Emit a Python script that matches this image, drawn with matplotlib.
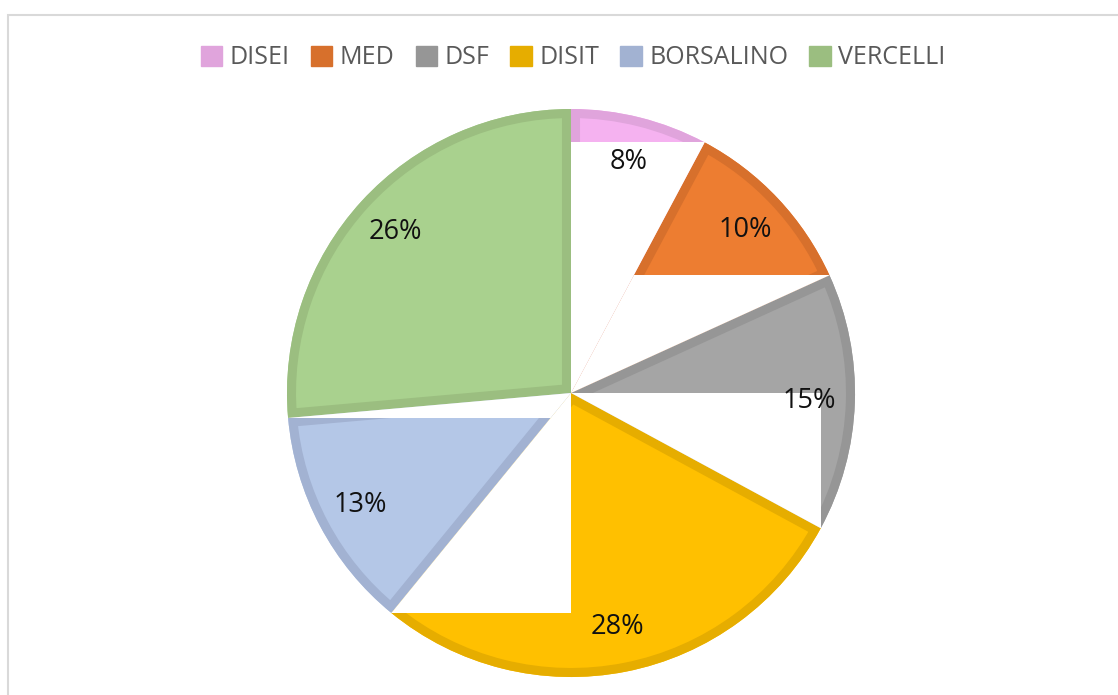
import numpy as np
import matplotlib.pyplot as plt
from matplotlib.patches import Rectangle, Patch, Wedge

# data
labels = ['DISEI', 'MED', 'DSF', 'DISIT', 'BORSALINO', 'VERCELLI']
shares = [7.8, 10.4, 14.7, 28.0, 12.7, 26.4]

fill_colors = ['#F5B2F0', '#ED7D31', '#A5A5A5', '#FFC000', '#B4C7E7', '#A9D18E']
edge_colors = ['#E0A4DC', '#D7702C', '#969696', '#E6AD00', '#A2B2D2', '#9BBE80']

plt.rcParams['font.family'] = ['Open Sans', 'DejaVu Sans']

W, H = 1118, 695
fig = plt.figure(figsize=(W / 100, H / 100), dpi=100)

# pie placement (pixels)
cx, cy, R, half = 571, 393, 284, 300
ax = fig.add_axes([(cx - half) / W, (H - cy - half) / H, 2 * half / W, 2 * half / H])

wedges, texts, autotexts = ax.pie(
    shares, startangle=90, counterclock=False, radius=1,
    colors=fill_colors, autopct='%.0f%%', pctdistance=0.84,
    wedgeprops={'linewidth': 0},
    textprops={'fontsize': 19.5, 'color': '#111111'},
)

lim = half / R
ax.set_xlim(-lim, lim)
ax.set_ylim(-lim, lim)
ax.set_aspect('equal')
ax.axis('off')

for w, ec in zip(wedges, edge_colors):
    # border drawn inside the slice only
    clip = Wedge((0, 0), 1, w.theta1, w.theta2, transform=ax.transData)
    border = Wedge((0, 0), 1, w.theta1, w.theta2, facecolor='none', edgecolor=ec,
                   linewidth=13, joinstyle='miter', zorder=1.2)
    ax.add_patch(border)
    border.set_clip_path(clip)
    # white cut-out between the centre and the end point of the slice edge
    t = np.deg2rad(w.theta1)
    ex, ey = np.cos(t), np.sin(t)
    if abs(ex) > 1e-6 and abs(ey) > 1e-6:
        cut = Rectangle((min(0, ex), min(0, ey)), abs(ex), abs(ey),
                        facecolor='white', edgecolor='none', zorder=1.5)
        ax.add_patch(cut)
        cut.set_clip_path(clip)

for t in autotexts:
    t.set_zorder(5)

handles = [Patch(facecolor=c, edgecolor=c) for c in edge_colors]
fig.legend(handles, labels, loc='center', bbox_to_anchor=(573 / W, 1 - 58 / H),
           ncol=6, frameon=False, fontsize=18, labelcolor='#595959',
           handlelength=0.85, handleheight=0.85, handletextpad=0.3,
           columnspacing=0.85)

# chart area border
fig.add_artist(Rectangle((8 / W, -0.1), 1.2, 1.1 - 15 / H, transform=fig.transFigure,
                         fill=False, edgecolor='#D9D9D9', linewidth=1.5))

fig.savefig('out.png', dpi=100)
